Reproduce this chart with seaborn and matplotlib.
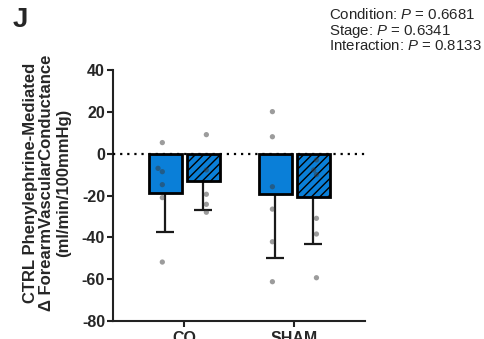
import numpy as np
import pandas as pd
import matplotlib
matplotlib.use("Agg")
import matplotlib.pyplot as plt
import seaborn as sns

# ---- data -------------------------------------------------------------
groups = ["CO", "SHAM"]
stages = ["Stage 1", "Stage 2"]

mean_stage1 = [-18.9, -19.3]
mean_stage2 = [-12.9, -20.9]
sd_stage1 = [18.4, 30.7]
sd_stage2 = [14.0, 22.5]

co_stage1 = [5.3, -7.0, -8.6, -14.8, -21.0, -51.8]
co_stage2 = [9.1, -7.8, -19.4, -24.2, -28.0]
sham_stage1 = [20.1, 8.1, -15.8, -26.5, -42.1, -61.2]
sham_stage2 = [-3.0, -7.8, -10.0, -30.9, -38.4, -59.3]

yticks = [40, 20, 0, -20, -40, -60, -80]
stats_lines = [
    r"Condition: $\it{P}$ = 0.6681",
    r"Stage: $\it{P}$ = 0.6341",
    r"Interaction: $\it{P}$ = 0.8133",
]
ylabel = "CTRL Phenylephrine-Mediated\nΔ ForearmVascularConductance\n(ml/min/100mmHg)"

# ---- tables -----------------------------------------------------------
summary = pd.DataFrame({
    "group": groups * 2,
    "stage": [stages[0]] * 2 + [stages[1]] * 2,
    "mean": mean_stage1 + mean_stage2,
    "sd": sd_stage1 + sd_stage2,
})

points = pd.DataFrame(
    [("CO", stages[0], v) for v in co_stage1]
    + [("CO", stages[1], v) for v in co_stage2]
    + [("SHAM", stages[0], v) for v in sham_stage1]
    + [("SHAM", stages[1], v) for v in sham_stage2],
    columns=["group", "stage", "value"],
)

# ---- style ------------------------------------------------------------
sns.set_style("ticks")
plt.rcParams["font.family"] = ["Liberation Sans", "DejaVu Sans"]
plt.rcParams["mathtext.fontset"] = "custom"
plt.rcParams["mathtext.rm"] = "Liberation Sans"
plt.rcParams["mathtext.it"] = "Liberation Sans:italic"
plt.rcParams["hatch.linewidth"] = 1.0
plt.rcParams["hatch.color"] = "black"

blue = "#0a7fd8"
bar_width = 0.69
gap = 0.13

fig = plt.figure(figsize=(4.85, 3.39), dpi=100)
ax = fig.add_axes([0.233, 0.053, 0.52, 0.7405])

sns.barplot(
    data=summary, x="group", y="mean", hue="stage",
    order=groups, hue_order=stages,
    palette=[blue, blue], saturation=1, width=bar_width, gap=gap,
    edgecolor="black", linewidth=2.0, errorbar=None,
    legend=False, ax=ax, zorder=2,
)

# hatch the second stage
for bar in ax.containers[1]:
    bar.set_hatch("////")

# one-sided SD error bars (pointing away from zero)
for container, sds in zip(ax.containers, [sd_stage1, sd_stage2]):
    for bar, sd in zip(container, sds):
        xc = bar.get_x() + bar.get_width() / 2
        m = bar.get_height()
        ax.errorbar([xc], [m], yerr=[[sd], [0]], fmt="none",
                    ecolor="#1a1a1a", elinewidth=1.6, capsize=6.5,
                    capthick=1.6, zorder=1)

# individual subjects
sns.swarmplot(
    data=points, x="group", y="value", hue="stage",
    order=groups, hue_order=stages, dodge=True,
    palette=["#3a3a3a", "#3a3a3a"], size=3.8, alpha=0.5,
    legend=False, ax=ax, zorder=4,
)
# line the swarms up with the bar centres
scale = bar_width / 0.8
for coll in ax.collections:
    offs = coll.get_offsets()
    if len(offs) == 0:
        continue
    offs = np.asarray(offs, dtype=float)
    base = np.round(offs[:, 0])
    offs[:, 0] = base + (offs[:, 0] - base) * scale
    coll.set_offsets(offs)

ax.axhline(0, color="black", lw=1.6, ls=(0, (1, 2.2)), zorder=5)

ax.set_ylim(-80, 40)
ax.set_xlim(-0.648, 1.643)
ax.set_yticks(yticks)
ax.set_yticklabels([str(t) for t in yticks])
ax.set_xlabel("")
ax.set_ylabel(ylabel, fontsize=12, fontweight="bold", linespacing=1.12)
ax.yaxis.set_label_coords(-0.168, 0.55)

for s in ["top", "right"]:
    ax.spines[s].set_visible(False)
for s in ["left", "bottom"]:
    ax.spines[s].set_linewidth(1.5)
    ax.spines[s].set_color("#222222")
ax.tick_params(axis="both", length=4.5, width=1.5, color="#222222",
               labelsize=11.5, pad=1.2)
ax.tick_params(axis="x", pad=3)
for lab in ax.get_xticklabels() + ax.get_yticklabels():
    lab.set_fontweight("bold")

fig.text(0.027, 0.978, "J", fontsize=20, fontweight="bold", va="top", ha="left")
for i, line in enumerate(stats_lines):
    fig.text(0.678, 1 - (19 + 15.5 * i) / 339, line, fontsize=10.8,
             va="baseline", ha="left")

fig.savefig("out.png", dpi=100)
